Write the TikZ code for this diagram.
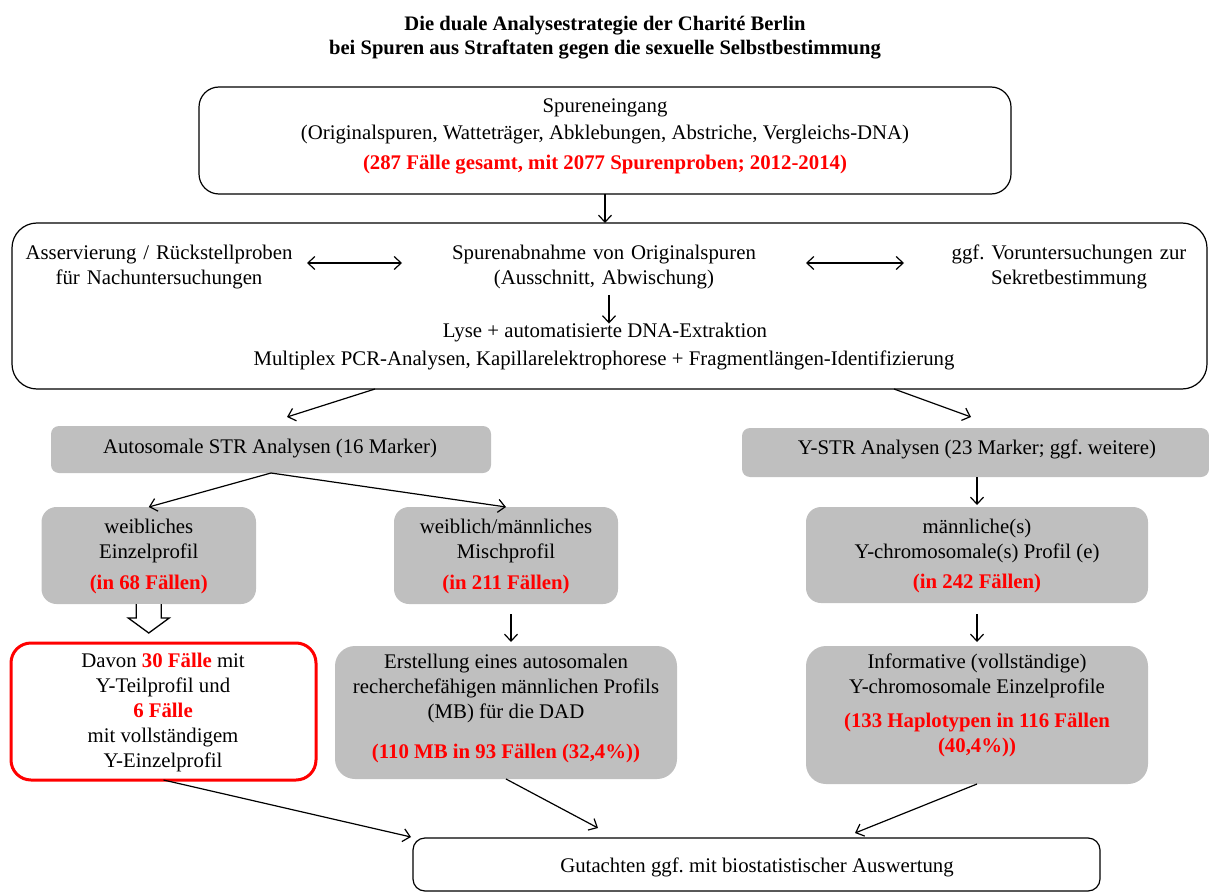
\documentclass[tikz,border=0pt]{standalone}
\usepackage{fontspec}
\setmainfont{Liberation Serif}
\usetikzlibrary{arrows.meta}
\definecolor{boxgray}{HTML}{BFBFBF}
\definecolor{hlred}{HTML}{FF0000}
\newcommand{\hl}[1]{\textbf{\color{hlred}#1}}
\frenchspacing
\begin{document}
\begin{tikzpicture}[x=1pt,y=-1pt,
  every node/.style={font=\fontsize{20.8}{25}\selectfont, inner sep=0pt, outer sep=0pt},
  wbox/.style={draw=black, line width=1.2pt, fill=white},
  gbox/.style={fill=boxgray, draw=none},
  txt/.style={align=center},
  arr/.style={-{Straight Barb[length=7pt,width=13pt]}, line width=1.2pt},
  darr/.style={{Straight Barb[length=7pt,width=13pt]}-{Straight Barb[length=7pt,width=13pt]}, line width=1.2pt}
]
\useasboundingbox (0,0) rectangle (1209,893);

% title
\node[txt, font=\fontsize{20.6}{24}\selectfont\bfseries] (title) at (605,38)
  {Die duale Analysestrategie der Charité Berlin\\bei Spuren aus Straftaten gegen die sexuelle Selbstbestimmung};

% box 1
\node[wbox, rounded corners=20pt, minimum width=812pt, minimum height=107pt] (b1) at (605,140.5) {};
\node[txt] (b1t) at (605,136.5) {Spureneingang\\[2pt](Originalspuren, Watteträger, Abklebungen, Abstriche, Vergleichs-DNA)\\[5pt]\hl{(287 Fälle gesamt, mit 2077 Spurenproben; 2012-2014)}};

% box 2
\node[wbox, rounded corners=25pt, minimum width=1195pt, minimum height=166pt] (b2) at (609.5,306) {};
\node[txt, text width=280pt] (asser) at (159,267) {Asservierung / Rückstellproben\\für Nachuntersuchungen};
\node[txt, text width=310pt] (spur) at (604,267) {Spurenabnahme von Originalspuren\\(Ausschnitt, Abwischung)};
\node[txt, text width=240pt] (ggf) at (1069,267) {ggf. Voruntersuchungen zur\\Sekretbestimmung};
\node[txt] (lyse) at (605,333) {Lyse + automatisierte DNA-Extraktion};
\node[txt] (multi) at (604,360) {Multiplex PCR-Analysen, Kapillarelektrophorese + Fragmentlängen-Identifizierung};

% autosomal / Y-STR
\node[gbox, rounded corners=8pt, minimum width=440pt, minimum height=47pt] (auto) at (271,449.5) {};
\node[txt] (autot) at (270,449) {Autosomale STR Analysen (16 Marker)};
\node[gbox, rounded corners=8pt, minimum width=467pt, minimum height=49pt] (ystr) at (975.5,452.5) {};
\node[txt] (ystrt) at (977,449) {Y-STR Analysen (23 Marker; ggf. weitere)};

% second row
\node[gbox, rounded corners=15pt, minimum width=214.5pt, minimum height=97pt] (weibl) at (148.75,555.5) {};
\node[txt] (weiblt) at (148.75,556) {weibliches\\Einzelprofil\\[6pt]\hl{(in 68 Fällen)}};
\node[gbox, rounded corners=15pt, minimum width=224pt, minimum height=97pt] (misch) at (506,555.5) {};
\node[txt] (mischt) at (506,556) {weiblich/männliches\\Mischprofil\\[6pt]\hl{(in 211 Fällen)}};
\node[gbox, rounded corners=15pt, minimum width=342pt, minimum height=96pt] (maenn) at (977,555) {};
\node[txt] (maennt) at (977,555.5) {männliche(s)\\Y-chromosomale(s) Profil (e)\\[5pt]\hl{(in 242 Fällen)}};

% third row
\node[draw=hlred, line width=3pt, fill=white, rounded corners=20pt, minimum width=305pt, minimum height=137pt] (redbox) at (163.5,711.5) {};
\node[txt] (redt) at (163,712.5) {Davon \hl{30 Fälle} mit\\Y-Teilprofil und\\\hl{6 Fälle}\\mit vollständigem\\Y-Einzelprofil};
\node[gbox, rounded corners=20pt, minimum width=342pt, minimum height=133pt] (erst) at (506,712.5) {};
\node[txt] (erstt) at (506,708) {Erstellung eines autosomalen\\recherchefähigen männlichen Profils\\(MB) für die DAD\\[15pt]\hl{(110 MB in 93 Fällen (32,4\%))}};
\node[gbox, rounded corners=20pt, minimum width=342pt, minimum height=138pt] (info) at (977,715) {};
\node[txt] (infot) at (977,705) {Informative (vollständige)\\Y-chromosomale Einzelprofile\\[9pt]\hl{(133 Haplotypen in 116 Fällen}\\\hl{(40,4\%))}};

% final box
\node[wbox, rounded corners=12pt, minimum width=687pt, minimum height=53pt] (gut) at (756.5,864.5) {};
\node[txt] (gutt) at (757,867) {Gutachten ggf. mit biostatistischer Auswertung};

% connectors
\draw[arr] (b1.south) -- (b1.south |- b2.north);
\draw[darr] ([xshift=8pt,yshift=4pt]asser.east) -- ([xshift=-47pt,yshift=4pt]spur.west);
\draw[darr] ([xshift=47pt,yshift=4pt]spur.east) -- ([xshift=-45pt,yshift=4pt]ggf.west);
\draw[arr] ([xshift=5pt,yshift=-6pt]spur.south) -- ([xshift=5pt]spur.south |- lyse.north);
\draw[arr] ([xshift=363pt]b2.south west) -- ([xshift=236pt,yshift=9pt]auto.north west);
\draw[arr] ([xshift=882pt]b2.south west) -- ([xshift=229pt,yshift=11pt]ystr.north west);
\draw[arr] (auto.south) -- (weibl.north);
\draw[arr] (auto.south) -- (misch.north);
\draw[arr] (maenn.north |- ystr.south) -- ([yshift=2pt]maenn.north);
\draw[line width=1.3pt, fill=white, line join=miter]
  ([xshift=-12.5pt]weibl.south) -- ++(0,14) -- ++(-8,0) -- ([yshift=-29pt]weibl.south)
  -- ([xshift=20.5pt,yshift=-14pt]weibl.south) -- ++(-8,0) -- ([xshift=12.5pt]weibl.south);
\draw[arr] ([xshift=5pt,yshift=-10pt]misch.south) -- ([xshift=5pt,yshift=4pt]erst.north);
\draw[arr] ([yshift=-11pt]maenn.south) -- ([yshift=4pt]info.north);
\draw[arr] (redbox.south) -- ([xshift=-2pt,yshift=1pt]gut.north west);
\draw[arr] (erst.south) -- ([xshift=185pt,yshift=10pt]gut.north west);
\draw[arr] (info.south) -- ([xshift=442pt,yshift=5pt]gut.north west);
\end{tikzpicture}
\end{document}
